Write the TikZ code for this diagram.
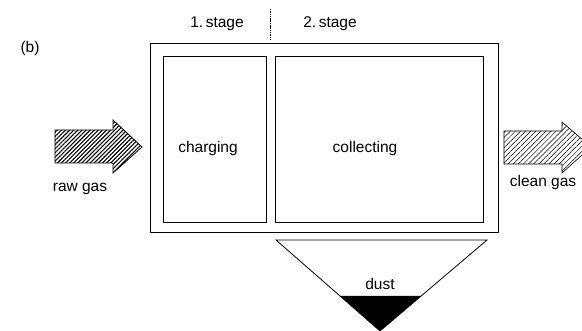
\documentclass[tikz,border=0pt]{standalone}
\usepackage{fontspec}
\setmainfont{Liberation Sans}
\usetikzlibrary{patterns.meta}
\begin{document}
\begin{tikzpicture}[x=1pt,y=-1pt,
  lbl/.style={font=\fontsize{15.5}{18}\selectfont, inner sep=0pt, anchor=center},
  boxline/.style={draw, line width=0.8pt},
  chamber/.style={boxline, inner sep=0pt, anchor=north west},
  hatchdense/.style={draw, line width=0.8pt, pattern={Lines[angle=45,distance=2.9pt,line width=1.1pt]}},
  hatchlight/.style={draw, line width=0.6pt, pattern={Lines[angle=45,distance=3.6pt,line width=0.5pt]}}]
\useasboundingbox (0,0) rectangle (582,331);
\clip (0,0) rectangle (582,331);
% outer housing
\node[chamber, minimum width=348pt, minimum height=189pt] (housing) at (150,43) {};
% inner chambers
\node[chamber, minimum width=103pt, minimum height=166pt] (charge) at (163,56) {};
\node[chamber, minimum width=208pt, minimum height=166pt] (collect) at (275,56) {};
\node[lbl] (chargelbl) at (208,148) {charging};
\node[lbl] (collectlbl) at (365,148) {collecting};
% stage labels
\node[lbl] (st1) at (217,24) {1.\,stage};
\node[lbl] (st2) at (330,24) {2.\,stage};
\coordinate (divtop) at (270,9);
\coordinate (divbot) at (270,39);
\draw[line width=1pt, dash pattern=on 1.5pt off 0.8pt] (divtop) -- (divbot);
\node[lbl] (b) at (30,48) {(b)};
% raw gas arrow
\draw[hatchdense] (55,130) -- (113,130) -- (113,120) -- (142,147) -- (113,173) -- (113,163) -- (55,163) -- cycle;
\node[lbl] (raw) at (80,189) {raw gas};
% clean gas arrow
\draw[hatchlight] (504,131) -- (562,131) -- (562,122) -- (591,147) -- (562,173) -- (562,164) -- (504,164) -- cycle;
\node[lbl] (clean) at (543,182) {clean gas};
% dust hopper
\coordinate (hl) at (276,240);
\coordinate (hr) at (487,240);
\coordinate (apex) at (380,331);
\draw[line width=0.8pt, line join=miter] (hl) -- (hr) -- (apex) -- cycle;
\fill (340,296) -- (421,296) -- (apex) -- cycle;
\node[lbl] (dust) at (380,284) {dust};
\end{tikzpicture}
\end{document}
